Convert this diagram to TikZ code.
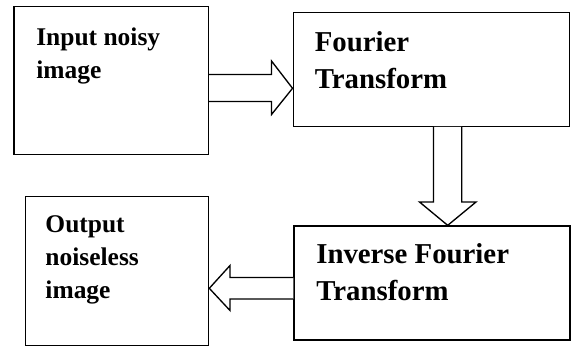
\documentclass[tikz,border=0pt]{standalone}
\usepackage{fontspec}
\setmainfont{Liberation Serif}
\begin{document}
\begin{tikzpicture}[x=0.75pt, y=-0.75pt]
            \tikzset{box/.style={draw, line width=1pt, inner sep=0pt}}
            \tikzset{txt/.style={anchor=north west, inner sep=0pt, align=left, font=\bfseries\fontsize{19.1}{24.75}\selectfont}}
            \tikzset{bigtxt/.style={txt, font=\bfseries\fontsize{21.6}{27.75}\selectfont}}
            \tikzset{blk/.style={draw, line width=1pt, line join=miter, fill=white}}
            \useasboundingbox (0,0) rectangle (573,347);
            % boxes
            \node [box, minimum width=145.9pt, minimum height=110.6pt] (inp) at (111.3, 80.5) {};
            \node [box, minimum width=207pt, minimum height=85.5pt] (ft) at (431.2, 69.3) {};
            \node [box, minimum width=207pt, minimum height=85.5pt] (ift) at (432, 283) {};
            \node [box, minimum width=137.6pt, minimum height=111.75pt] (out) at (116.9, 271.2) {};
            % labels
            \node [txt] (inp-t) at ([shift={(22.7,21)}]inp.north west) {Input noisy\\image};
            \node [bigtxt] (ft-t) at ([shift={(22,19.6)}]ft.north west) {Fourier\\Transform};
            \node [bigtxt] (ift-t) at ([shift={(22.7,17.6)}]ift.north west) {Inverse Fourier\\Transform};
            \node [txt] (out-t) at ([shift={(20.7,19)}]out.north west) {Output\\noiseless\\image};
            % block arrows
            \draw [blk] (inp.east |- 0,74.5) -- (271.5,74.5) -- (271.5,61) -- (ft.west |- 0,88.3)
                -- (271.5,114.5) -- (271.5,101.5) -- (inp.east |- 0,101.5);
            \draw [blk] (ft.south -| 433.5,0) -- (433.5,202) -- (419.5,202) -- (ift.north -| 447.7,0)
                -- (476,202) -- (461.7,202) -- (ft.south -| 461.7,0);
            \draw [blk] (ift.west |- 0,277.5) -- (230,277.5) -- (230,265.5) -- (out.east |- 0,288.3)
                -- (230,310.5) -- (230,299) -- (ift.west |- 0,299);
\end{tikzpicture}
\end{document}
